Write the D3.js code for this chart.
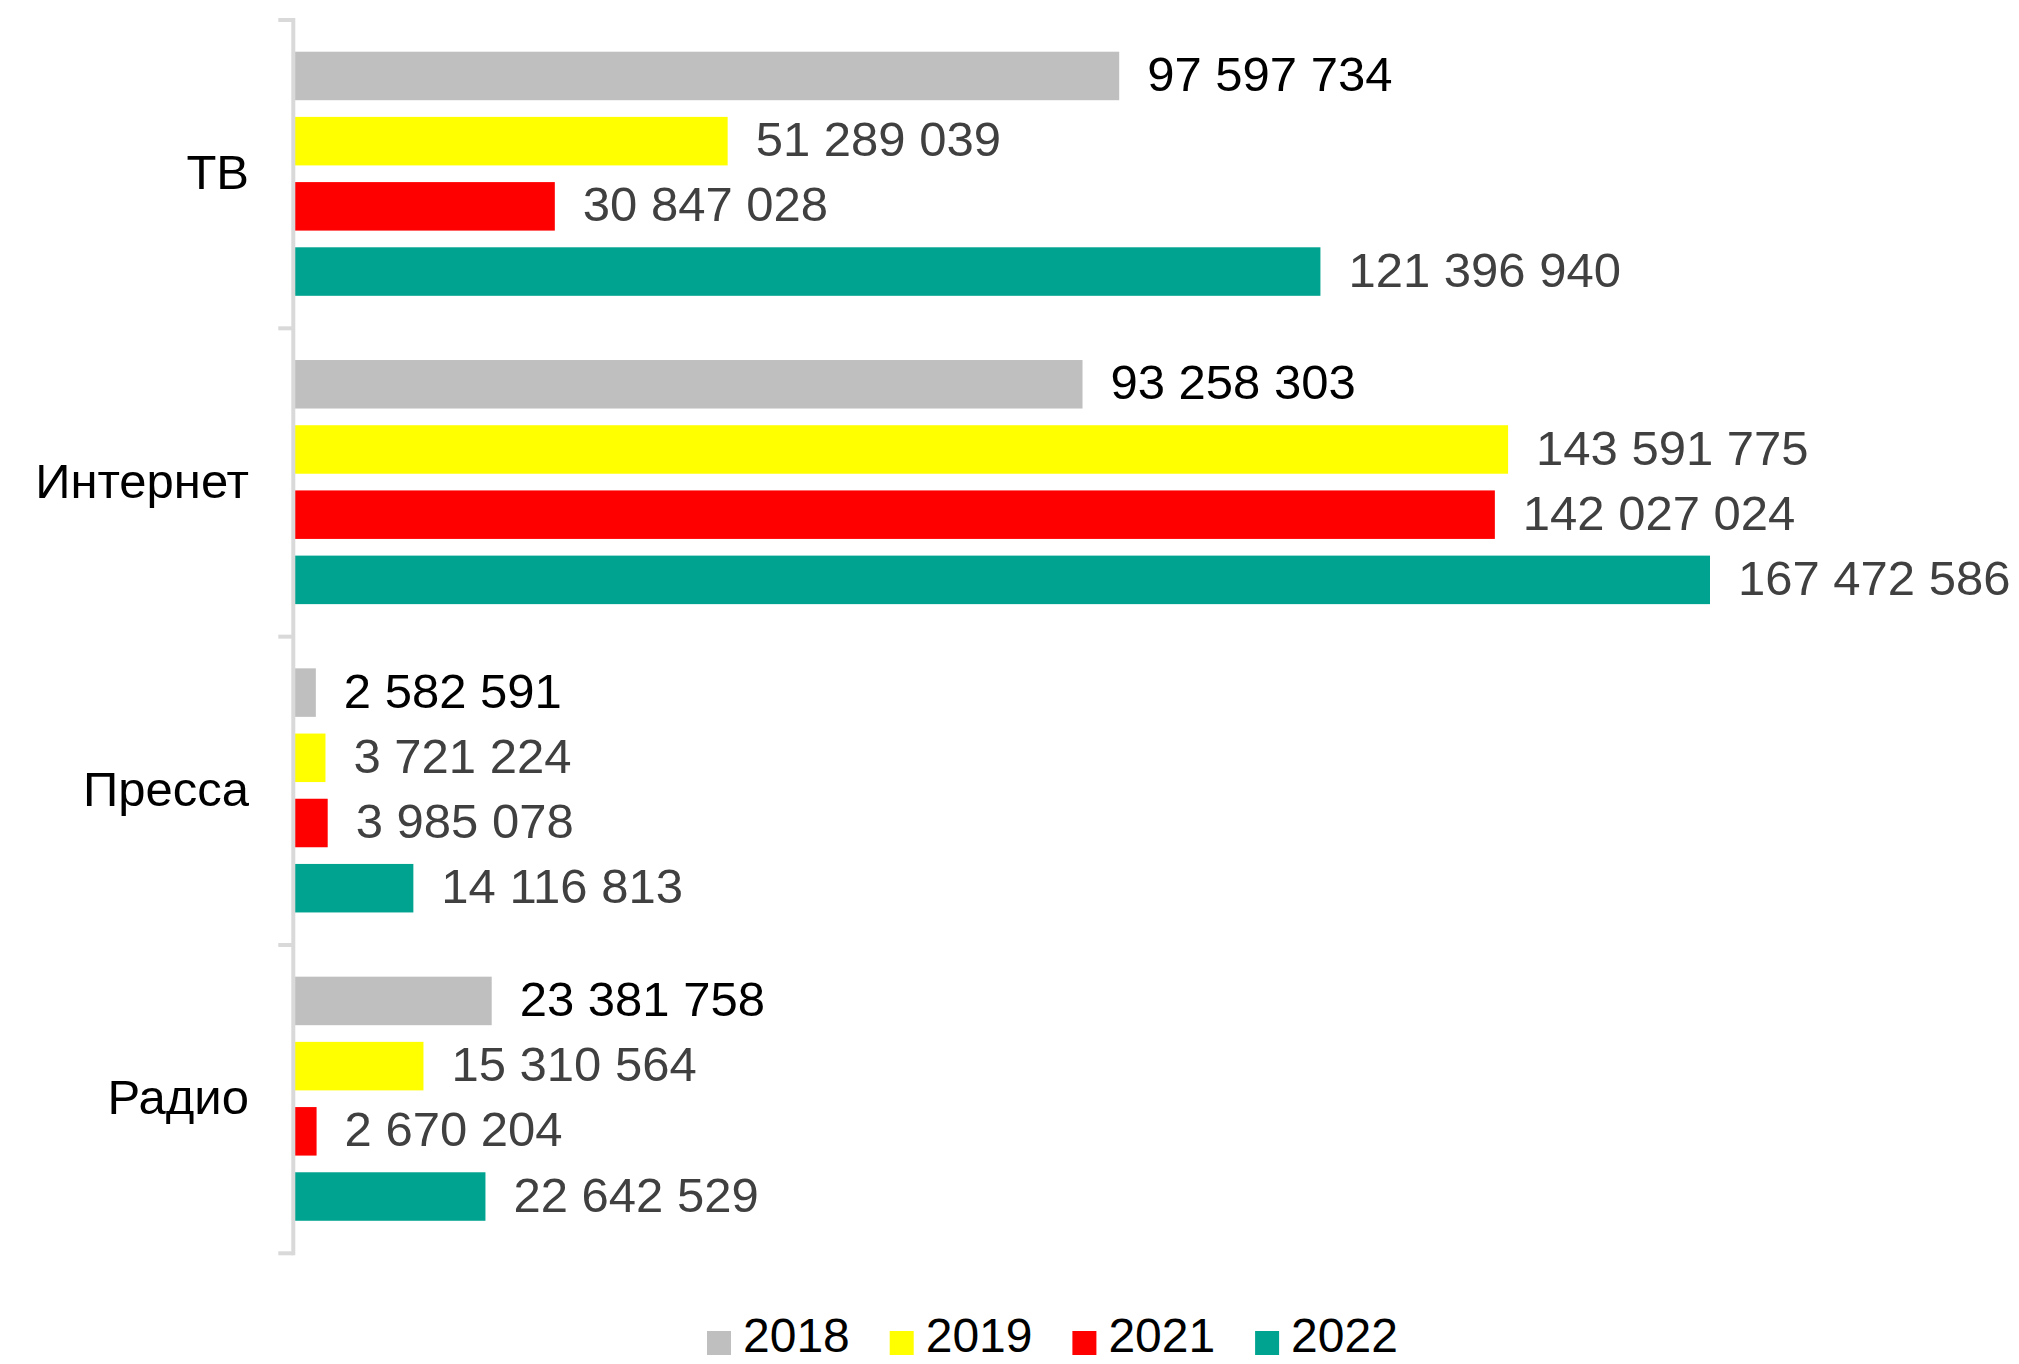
<!DOCTYPE html>
<html>
<head>
  <meta charset="utf-8"/>
  <title>Рекламные бюджеты</title>
  <script src="https://cdn.jsdelivr.net/npm/d3@7/dist/d3.min.js"></script>
  <style>
    html, body { margin: 0; padding: 0; background: #fff; }
    svg { display: block; font-family: "Liberation Sans", Arial, sans-serif; }
  </style>
</head>
<body>
<svg></svg>

<script>

// data
const categories = ["ТВ", "Интернет", "Пресса", "Радио"];
const years = ["2018", "2019", "2021", "2022"];
const values2018 = [97597734, 93258303, 2582591, 23381758];
const values2019 = [51289039, 143591775, 3721224, 15310564];
const values2021 = [30847028, 142027024, 3985078, 2670204];
const values2022 = [121396940, 167472586, 14116813, 22642529];
const colors = ["#bfbfbf", "#ffff00", "#ff0000", "#00a38f"];
const labelColors = ["#000000", "#404040", "#404040", "#404040"];

const series = [values2018, values2019, values2021, values2022];

const width = 2019;
const height = 1364;

const svg = d3.select("svg")
    .attr("width", width)
    .attr("height", height);

const fmt = d3.formatLocale({
  decimal: ",",
  thousands: " ",
  grouping: [3],
  currency: ["", ""]
}).format(",d");

// scales
const y0 = d3.scaleBand()
    .domain(categories)
    .range([20, 1253.3]);

const y1 = d3.scaleBand()
    .domain(years)
    .range([31.7, 275.8])
    .paddingInner(0.256);

const x = d3.scaleLinear()
    .domain([0, d3.max(values2022)])
    .range([294, 1710]);

// rows of bars
const rows = [];
categories.forEach((c, ci) => {
  years.forEach((yr, yi) => {
    rows.push({cat: c, year: yr, yi: yi, value: series[yi][ci]});
  });
});

const groups = svg.selectAll(".cat")
    .data(categories)
    .join("g")
      .attr("class", "cat")
      .attr("transform", d => `translate(0,${y0(d)})`);

groups.selectAll("rect")
    .data(c => rows.filter(r => r.cat === c))
    .join("rect")
      .attr("x", x(0))
      .attr("y", d => y1(d.year))
      .attr("width", d => x(d.value) - x(0))
      .attr("height", y1.bandwidth())
      .attr("fill", d => colors[d.yi]);

groups.selectAll(".val")
    .data(c => rows.filter(r => r.cat === c))
    .join("text")
      .attr("class", "val")
      .attr("x", d => x(d.value) + 28)
      .attr("y", d => y1(d.year) + y1.bandwidth() / 2 - 2)
      .attr("dy", "0.35em")
      .attr("font-size", 49)
      .attr("fill", d => labelColors[d.yi])
      .text(d => fmt(d.value));

// axis
const axis = svg.append("g").attr("transform", "translate(293.3,0)");

axis.append("line")
    .attr("x1", 0).attr("x2", 0)
    .attr("y1", y0.range()[0] - 2)
    .attr("y2", y0.range()[1] + 2)
    .attr("stroke", "#d9d9d9")
    .attr("stroke-width", 4);

const tickPos = categories.map(c => y0(c)).concat([y0.range()[1]]);
axis.selectAll(".tick")
    .data(tickPos)
    .join("line")
      .attr("class", "tick")
      .attr("x1", -15).attr("x2", 0)
      .attr("y1", d => d).attr("y2", d => d)
      .attr("stroke", "#d9d9d9")
      .attr("stroke-width", 4);

svg.selectAll(".catlabel")
    .data(categories)
    .join("text")
      .attr("class", "catlabel")
      .attr("x", 249)
      .attr("y", d => y0(d) + y0.bandwidth() / 2 - 2)
      .attr("dy", "0.35em")
      .attr("text-anchor", "end")
      .attr("font-size", 49)
      .attr("fill", "#000")
      .text(d => d);

// legend
const legend = svg.selectAll(".legend")
    .data(years)
    .join("g")
      .attr("class", "legend")
      .attr("transform", (d, i) => `translate(${707 + i * 182.7},1331)`);

legend.append("rect")
    .attr("width", 24)
    .attr("height", 24)
    .attr("fill", (d, i) => colors[i]);

legend.append("text")
    .attr("x", 36)
    .attr("y", 21)
    .attr("font-size", 48)
    .attr("fill", "#000")
    .text(d => d);

</script>
</body>
</html>
